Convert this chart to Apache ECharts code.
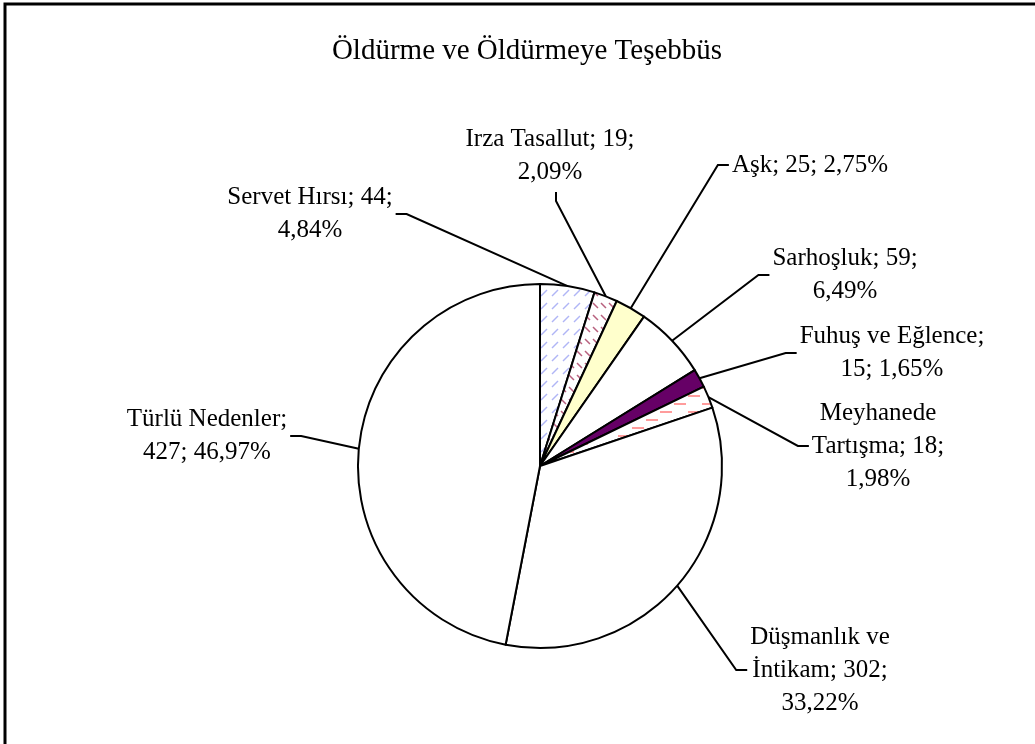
<!DOCTYPE html>
<html>
<head>
<meta charset="utf-8">
<title>Öldürme ve Öldürmeye Teşebbüs</title>
<script src="https://cdn.jsdelivr.net/npm/echarts@6/dist/echarts.min.js"></script>
<style>
  html, body { margin: 0; padding: 0; background: #fff; }
  #chart { width: 1035px; height: 744px; }
</style>
</head>
<body>
<div id="chart"></div>
<script>
const chartTitle = 'Öldürme ve Öldürmeye Teşebbüs'
// names carry Excel's own line breaks where the name itself wraps
const categories = ['Servet Hırsı', 'Irza Tasallut', 'Aşk', 'Sarhoşluk', 'Fuhuş ve Eğlence', 'Meyhanede\nTartışma', 'Düşmanlık ve\nİntikam', 'Türlü Nedenler']
const counts = [44, 19, 25, 59, 15, 18, 302, 427]
// n = name, v = value, p = percent, | = line break
const labelWraps = ['nv|p', 'nv|p', 'nvp', 'nv|p', 'n|vp', 'nv|p', 'nv|p', 'n|vp']

const fontFamily = '"Liberation Serif", "Times New Roman", serif'
const total = counts.reduce((s, v) => s + v, 0)

// label centre + which side the leader line joins
const labelSpots = [
  [310, 214, 'right'],
  [550, 156, 'bottom'],
  [810, 165, 'left'],
  [845, 275, 'left'],
  [892, 353, 'left'],
  [878, 446, 'left'],
  [820, 670, 'left'],
  [207, 436, 'right']
]

const hatch = (w, h, color, lineWidth, draw) => {
  const c = document.createElement('canvas')
  c.width = w
  c.height = h
  const ctx = c.getContext('2d')
  ctx.fillStyle = '#fff'
  ctx.fillRect(0, 0, w, h)
  ctx.strokeStyle = color
  ctx.lineWidth = lineWidth
  ctx.beginPath()
  draw(ctx)
  ctx.stroke()
  return { image: c, repeat: 'repeat' }
}

const blueHatch = hatch(11, 13, '#b0b5f6', 1.5, (ctx) => { ctx.moveTo(2, 10); ctx.lineTo(8, 4) })
const redHatch = hatch(8, 12, '#b8607e', 1.5, (ctx) => { ctx.moveTo(1, 3); ctx.lineTo(6, 8) })
const pinkDash = hatch(28, 16, '#ff9c9c', 2, (ctx) => {
  ctx.moveTo(2, 4); ctx.lineTo(14, 4)
  ctx.moveTo(16, 12); ctx.lineTo(28, 12)
})

const sliceColors = [blueHatch, redHatch, '#ffffcc', '#ffffff', '#660066', pinkDash, '#ffffff', '#ffffff']

const pct = (v) => (v / total * 100).toFixed(2).replace('.', ',') + '%'

const labelText = (i) => {
  const parts = { n: categories[i] + ';', v: counts[i] + ';', p: pct(counts[i]) }
  return labelWraps[i].split('|').map((line) => line.split('').map((k) => parts[k]).join(' ')).join('\n')
    .replace(/;$/, '')
}

const chart = echarts.init(document.getElementById('chart'))
chart.setOption({
  animation: false,
  backgroundColor: '#fff',
  graphic: [
    {
      type: 'rect',
      shape: { x: 5, y: 4, width: 1100, height: 900 },
      style: { fill: 'none', stroke: '#000', lineWidth: 3 },
      silent: true
    },
    {
      type: 'text',
      x: 527,
      y: 51,
      style: {
        text: chartTitle,
        fontFamily,
        fontSize: 29,
        fill: '#000',
        align: 'center',
        verticalAlign: 'middle'
      },
      silent: true
    }
  ],
  series: [
    {
      type: 'pie',
      center: [540, 466],
      radius: 182,
      startAngle: 90,
      clockwise: true,
      avoidLabelOverlap: false,
      silent: true,
      itemStyle: { borderColor: '#000', borderWidth: 2 },
      label: {
        show: true,
        position: 'outside',
        color: '#000',
        fontFamily,
        fontSize: 25,
        lineHeight: 33,
        align: 'center',
        formatter: (p) => labelText(p.dataIndex)
      },
      labelLine: {
        show: true,
        length: 10,
        length2: 10,
        smooth: false,
        lineStyle: { color: '#000', width: 2 }
      },
      labelLayout: (params) => {
        const [x, y, side] = labelSpots[params.dataIndex]
        const w = params.labelRect.width
        const h = params.labelRect.height
        let anchor
        let bend
        if (side === 'left') {
          anchor = [x - w / 2 - 3, y]
          bend = [anchor[0] - 11, y]
        } else if (side === 'right') {
          anchor = [x + w / 2 + 3, y]
          bend = [anchor[0] + 11, y]
        } else {
          anchor = [x + 6, y + h / 2 + 3]
          bend = [anchor[0], anchor[1] + 9]
        }
        const start = params.labelLinePoints ? params.labelLinePoints[0] : bend
        return {
          x,
          y,
          align: 'center',
          verticalAlign: 'middle',
          labelLinePoints: [start, bend, anchor]
        }
      },
      data: categories.map((name, i) => ({
        name,
        value: counts[i],
        itemStyle: { color: sliceColors[i] }
      }))
    }
  ]
})
</script>
</body>
</html>
